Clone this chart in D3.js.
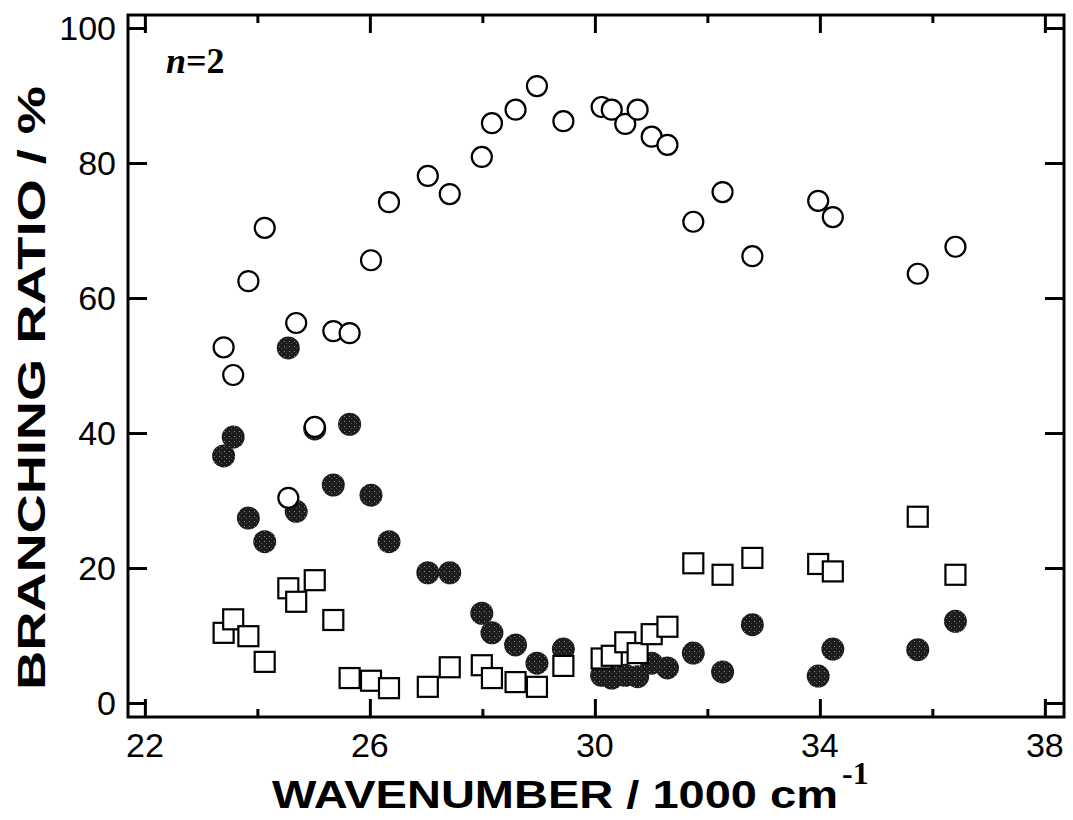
<!DOCTYPE html>
<html>
<head>
<meta charset="utf-8">
<script src="https://cdn.jsdelivr.net/npm/d3@7"></script>
<style>
  body { margin: 0; background: #fff; }
</style>
</head>
<body>
<div id="chart"></div>
<script>
(function () {
    // wavenumber (1000 cm-1) shared by all three channels
    var wavenumber = [23.40, 23.57, 23.84, 24.13, 24.55, 24.69, 25.02, 25.35, 25.64, 26.02, 26.34,
        27.03, 27.42, 27.99, 28.17, 28.59, 28.97, 29.44, 30.12, 30.30, 30.54, 30.76, 31.01, 31.29,
        31.75, 32.27, 32.80, 33.97, 34.23, 35.74, 36.41];
    var openCircle = [52.7, 48.6, 62.5, 70.4, 30.4, 56.3, 40.9, 55.1, 54.8, 65.6, 74.2,
        78.1, 75.4, 80.9, 85.9, 87.9, 91.4, 86.2, 88.3, 87.9, 85.8, 87.9, 83.9, 82.7,
        71.3, 75.7, 66.2, 74.4, 72.0, 63.6, 67.6];
    var filledCircle = [36.6, 39.4, 27.4, 23.9, 52.6, 28.4, 40.6, 32.3, 41.3, 30.8, 23.9,
        19.3, 19.3, 13.3, 10.4, 8.6, 5.9, 8.0, 4.1, 3.7, 4.1, 3.9, 5.9, 5.2,
        7.4, 4.6, 11.6, 4.0, 8.0, 7.9, 12.1];
    var openSquare = [10.4, 12.4, 9.9, 6.1, 17.0, 15.0, 18.2, 12.3, 3.7, 3.3, 2.2,
        2.4, 5.3, 5.6, 3.7, 3.1, 2.4, 5.5, 6.6, 7.0, 9.0, 7.4, 10.2, 11.3,
        20.7, 19.0, 21.5, 20.6, 19.5, 27.6, 19.0];
    var xMajor = [22, 26, 30, 34, 38];
    var xMinor = [24, 28, 32, 36];
    var yMajor = [0, 20, 40, 60, 80, 100];

    var width = 1073, height = 820;
    var margin = {top: 15, right: 9, bottom: 103, left: 128};
    var innerW = width - margin.left - margin.right,
        innerH = height - margin.top - margin.bottom;

    var x = d3.scaleLinear().domain([21.70, 38.34]).range([0, innerW]);
    var y = d3.scaleLinear().domain([-2.07, 101.93]).range([innerH, 0]);

    var svg = d3.select('#chart').append('svg')
        .attr('width', width)
        .attr('height', height)
        .style('font-family', '"Liberation Sans", Arial, sans-serif');

    // stippled fill for the filled circles
    var pat = svg.append('defs').append('pattern')
        .attr('id', 'stipple')
        .attr('patternUnits', 'userSpaceOnUse')
        .attr('width', 5).attr('height', 5);
    pat.append('rect').attr('width', 5).attr('height', 5).attr('fill', '#1c1c1c');
    pat.append('rect').attr('x', 1).attr('y', 1).attr('width', 1).attr('height', 1).attr('fill', '#8a8a8a');
    pat.append('rect').attr('x', 3).attr('y', 3).attr('width', 1).attr('height', 1).attr('fill', '#555');

    var g = svg.append('g').attr('transform', `translate(${margin.left},${margin.top})`);

    // ticks, inward, on all four sides
    function axisStyle(sel) {
        sel.select('.domain').remove();
        sel.selectAll('line').attr('stroke', '#000').attr('stroke-width', 3);
        sel.selectAll('text').remove();
    }
    g.append('g').attr('transform', `translate(0,${innerH})`)
        .call(d3.axisBottom(x).tickValues(xMajor).tickSizeInner(-18).tickSizeOuter(0)).call(axisStyle);
    g.append('g').attr('transform', `translate(0,${innerH})`)
        .call(d3.axisBottom(x).tickValues(xMinor).tickSizeInner(-8).tickSizeOuter(0)).call(axisStyle);
    g.append('g')
        .call(d3.axisTop(x).tickValues(xMajor).tickSizeInner(-18).tickSizeOuter(0)).call(axisStyle);
    g.append('g')
        .call(d3.axisTop(x).tickValues(xMinor).tickSizeInner(-8).tickSizeOuter(0)).call(axisStyle);
    g.append('g')
        .call(d3.axisLeft(y).tickValues(yMajor).tickSizeInner(-19).tickSizeOuter(0)).call(axisStyle);
    g.append('g').attr('transform', `translate(${innerW},0)`)
        .call(d3.axisRight(y).tickValues(yMajor).tickSizeInner(-19).tickSizeOuter(0)).call(axisStyle);

    // tick labels
    g.selectAll('.xlab').data(xMajor).join('text')
        .attr('x', d => x(d)).attr('y', innerH + 40)
        .attr('text-anchor', 'middle')
        .attr('font-size', 34)
        .text(d => d);
    g.selectAll('.ylab').data(yMajor).join('text')
        .attr('x', -12).attr('y', d => y(d) + 12)
        .attr('text-anchor', 'end')
        .attr('font-size', 34)
        .text(d => d);

    // frame
    g.append('rect')
        .attr('width', innerW).attr('height', innerH)
        .attr('fill', 'none').attr('stroke', '#000').attr('stroke-width', 3);

    var pts = wavenumber.map((w, i) => ({w: w, o: openCircle[i], f: filledCircle[i], s: openSquare[i]}));

    g.selectAll('.filled').data(pts).join('circle')
        .attr('class', 'filled')
        .attr('cx', d => x(d.w)).attr('cy', d => y(d.f))
        .attr('r', 11.5)
        .attr('fill', 'url(#stipple)');

    g.selectAll('.sq').data(pts).join('rect')
        .attr('class', 'sq')
        .attr('x', d => x(d.w) - 10).attr('y', d => y(d.s) - 10)
        .attr('width', 20).attr('height', 20)
        .attr('fill', '#fff').attr('stroke', '#000').attr('stroke-width', 2.2);

    g.selectAll('.open').data(pts).join('circle')
        .attr('class', 'open')
        .attr('cx', d => x(d.w)).attr('cy', d => y(d.o))
        .attr('r', 10)
        .attr('fill', '#fff').attr('stroke', '#000').attr('stroke-width', 2.2);

    // n=2 label
    var nl = g.append('text')
        .attr('x', 38).attr('y', 58)
        .attr('font-family', '"Liberation Serif", "Times New Roman", serif')
        .attr('font-weight', 'bold')
        .attr('font-size', 36);
    nl.append('tspan').attr('font-style', 'italic').text('n');
    nl.append('tspan').text('=2');

    // axis titles
    svg.append('text')
        .attr('x', 272).attr('y', 808)
        .attr('font-weight', 'bold')
        .attr('font-size', 38)
        .attr('textLength', 566)
        .attr('lengthAdjust', 'spacingAndGlyphs')
        .text('WAVENUMBER / 1000 cm');
    svg.append('text')
        .attr('x', 842).attr('y', 784)
        .attr('font-family', '"Liberation Serif", "Times New Roman", serif')
        .attr('font-weight', 'bold')
        .attr('font-size', 32)
        .text('-1');

    svg.append('text')
        .attr('transform', 'translate(45,388) rotate(-90)')
        .attr('text-anchor', 'middle')
        .attr('font-weight', 'bold')
        .attr('font-size', 38)
        .attr('textLength', 604)
        .attr('lengthAdjust', 'spacingAndGlyphs')
        .text('BRANCHING RATIO / %');
}());
</script>
</body>
</html>
